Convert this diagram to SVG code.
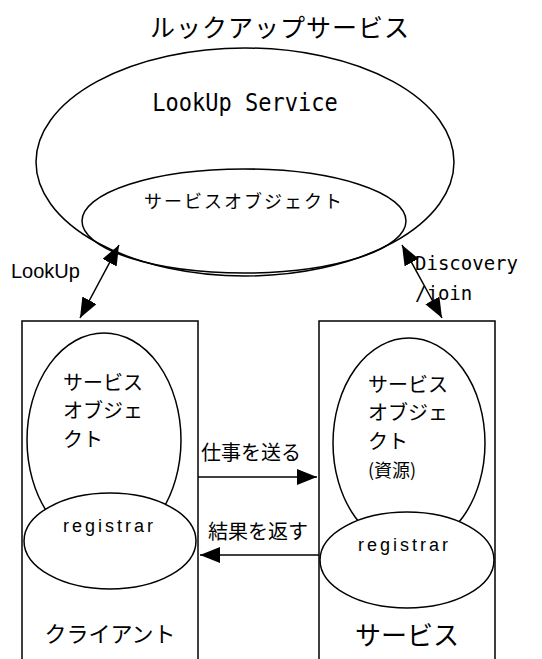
<svg xmlns="http://www.w3.org/2000/svg" width="542" height="659" viewBox="0 0 542 659">
  <style>
    .ln { fill: none; stroke: #000; stroke-width: 1.5; }
    .wf { fill: #fff; stroke: #000; stroke-width: 1.5; }
    .jp { font-family: "Noto Sans CJK JP", "Noto Sans", sans-serif; fill: #000; }
    .mono { font-family: "DejaVu Sans Mono", "Liberation Mono", monospace; fill: #000; }
    .sans { font-family: "Liberation Sans", Arial, sans-serif; fill: #000; }
    .reg { font-family: "Liberation Sans", Arial, sans-serif; fill: #000; font-size: 18px; letter-spacing: 3px; }
    .arr { fill: none; stroke: #000; stroke-width: 1.5; marker-end: url(#head); }
    .arr2 { fill: none; stroke: #000; stroke-width: 1.5; marker-start: url(#head); marker-end: url(#head); }
  </style>
  <defs>
    <marker id="head" markerUnits="userSpaceOnUse" markerWidth="22" markerHeight="18" refX="20" refY="8" orient="auto-start-reverse">
      <path d="M0,0 L20,8 L0,16 z" fill="#000"/>
    </marker>
  </defs>

  <rect width="542" height="659" fill="#fff"/>

  <!-- title -->
  <text class="jp" x="280" y="37" font-size="25" text-anchor="middle" letter-spacing="1">ルックアップサービス</text>

  <!-- lookup service -->
  <g id="lookup-service">
    <ellipse class="wf" cx="245" cy="162" rx="209" ry="114"/>
    <text class="mono" x="245" y="111" font-size="22" text-anchor="middle" transform="translate(0,-17) scale(1,1.15)">LookUp Service</text>
    <ellipse class="ln" cx="244" cy="221" rx="162" ry="52"/>
    <text class="jp" x="244" y="208" font-size="18" text-anchor="middle" letter-spacing="2">サービスオブジェクト</text>
  </g>

  <!-- client -->
  <g id="client">
    <rect class="ln" x="22" y="321" width="176" height="400"/>
    <ellipse class="ln" cx="104" cy="440" rx="77" ry="107"/>
    <text class="jp" x="63" y="390" font-size="20">サービス</text>
    <text class="jp" x="63" y="418" font-size="20">オブジェ</text>
    <text class="jp" x="63" y="447" font-size="20">クト</text>
    <ellipse class="wf" cx="110" cy="541" rx="86" ry="48"/>
    <text class="reg" x="109.5" y="532" text-anchor="middle">registrar</text>
    <text class="jp" x="110" y="642" font-size="22" text-anchor="middle">クライアント</text>
  </g>

  <!-- service -->
  <g id="service">
    <rect class="ln" x="319" y="321" width="176" height="400"/>
    <ellipse class="ln" cx="409" cy="443" rx="76" ry="105"/>
    <text class="jp" x="368" y="392" font-size="20">サービス</text>
    <text class="jp" x="368" y="420" font-size="20">オブジェ</text>
    <text class="jp" x="368" y="449" font-size="20">クト</text>
    <text class="jp" x="368" y="477" font-size="18">(資源)</text>
    <ellipse class="wf" cx="407" cy="560" rx="87" ry="48"/>
    <text class="reg" x="404.5" y="551" text-anchor="middle">registrar</text>
    <text class="jp" x="407" y="645" font-size="26" text-anchor="middle">サービス</text>
  </g>

  <!-- connectors -->
  <g id="connectors">
    <line class="arr2" x1="80" y1="318" x2="119" y2="245"/>
    <text class="sans" x="11" y="278" font-size="20">LookUp</text>
    <line class="arr2" x1="442" y1="318" x2="402" y2="245"/>
    <text class="mono" x="415" y="270" font-size="19">Discovery</text>
    <text class="mono" x="415" y="300" font-size="19">/join</text>
    <line class="arr" x1="198" y1="477" x2="317" y2="477"/>
    <text class="jp" x="251" y="460" font-size="20" text-anchor="middle">仕事を送る</text>
    <line class="arr" x1="319" y1="555" x2="200" y2="555"/>
    <text class="jp" x="258" y="539" font-size="20" text-anchor="middle">結果を返す</text>
  </g>
</svg>
